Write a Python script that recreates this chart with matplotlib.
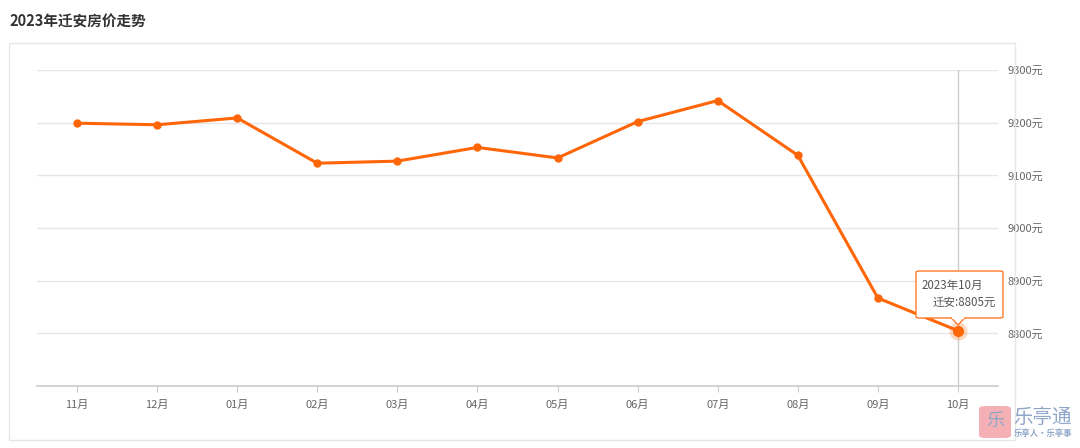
import matplotlib
matplotlib.use("Agg")
import matplotlib.pyplot as plt
from matplotlib.patches import Rectangle, FancyBboxPatch, Polygon

plt.rcParams['font.family'] = ['Noto Sans CJK SC', 'DejaVu Sans']

title = "2023年迁安房价走势"
months = ["11月", "12月", "01月", "02月", "03月", "04月", "05月", "06月", "07月", "08月", "09月", "10月"]
prices = [9199, 9196, 9209, 9123, 9127, 9153, 9133, 9202, 9242, 9138, 8867, 8805]
y_ticks = [8800, 8900, 9000, 9100, 9200, 9300]
y_min, y_max = 8700, 9300
tooltip_title = "2023年10月"
tooltip_series = "迁安"
city_unit = "元"

W, H = 1080, 448
fig = plt.figure(figsize=(W / 100, H / 100), dpi=100)
fig.patch.set_facecolor("white")

# panel border
fig.patches.append(Rectangle((9 / W, 1 - 440 / H), (1015 - 9) / W, (440 - 43) / H,
                             transform=fig.transFigure, fill=False,
                             edgecolor="#e6e6e6", linewidth=1.0))
fig.text(9 / W, 1 - 22 / H, title, fontsize=10.5, fontweight="bold", color="#333333",
         ha="left", va="center")

ax = fig.add_axes([37 / W, 1 - 386 / H, (998 - 37) / W, (386 - 70) / H])
x = list(range(len(months)))
ax.set_xlim(-0.5, len(months) - 0.5)
ax.set_ylim(y_min, y_max)

for t in y_ticks:
    ax.axhline(t, color="#e6e6e6", linewidth=1.0, zorder=0)

for s in ["top", "left", "right"]:
    ax.spines[s].set_visible(False)
ax.spines["bottom"].set_color("#cccccc")
ax.spines["bottom"].set_linewidth(1.2)

ax.yaxis.tick_right()
ax.set_yticks(y_ticks)
ax.set_yticklabels([f"{t}{city_unit}" for t in y_ticks], fontsize=8, color="#666666")
ax.tick_params(axis="y", length=0, pad=7)
ax.set_xticks(x)
ax.set_xticklabels(months, fontsize=8, color="#666666")
ax.tick_params(axis="x", length=4, color="#cccccc", pad=6)

# crosshair
ax.axvline(x[-1], color="#cccccc", linewidth=1.0, zorder=1)

ax.plot(x, prices, color="#ff6608", linewidth=2.2, marker="o", markersize=5,
        zorder=3, solid_joinstyle="round")
# highlighted last point
ax.plot(x[-1], prices[-1], marker="o", markersize=13, color="#ff6608", alpha=0.25,
        markeredgewidth=0, zorder=4)
ax.plot(x[-1], prices[-1], marker="o", markersize=8, color="#ff6608", zorder=5,
        markeredgewidth=0)

# tooltip (figure coordinates in pixels)
def fx(px):
    return px / W

def fy(py):
    return 1 - py / H

bx0, bx1, by0, by1 = 916, 1003, 271, 318
box = FancyBboxPatch((fx(bx0), fy(by1)), fx(bx1) - fx(bx0), fy(by0) - fy(by1),
                     boxstyle="round,pad=0,rounding_size=0.003",
                     transform=fig.transFigure, facecolor="white",
                     edgecolor="#ff7a26", linewidth=1.0, zorder=10)
fig.patches.append(box)
tri = Polygon([(fx(951), fy(by1 - 0.5)), (fx(958), fy(by1 + 7)), (fx(965), fy(by1 - 0.5))],
              closed=False, transform=fig.transFigure, facecolor="white",
              edgecolor="#ff7a26", linewidth=1.0, zorder=11)
fig.patches.append(tri)
fig.patches.append(Rectangle((fx(952), fy(by1 + 0.6)), fx(964) - fx(952), 1.6 / H,
                             transform=fig.transFigure, facecolor="white",
                             edgecolor="none", zorder=12))
fig.text(fx(922), fy(285), tooltip_title, fontsize=8.3, color="#555555",
         ha="left", va="center", zorder=13)
fig.text(fx(996), fy(302), f"{tooltip_series}:{prices[-1]}{city_unit}", fontsize=8.3,
         color="#555555", ha="right", va="center", zorder=13)

# watermark
fig.patches.append(FancyBboxPatch((fx(979), fy(438)), fx(1011) - fx(979), fy(406) - fy(438),
                                  boxstyle="round,pad=0,rounding_size=0.006",
                                  transform=fig.transFigure, facecolor="#f4a3a8",
                                  edgecolor="none", alpha=0.85, zorder=20))
fig.text(fx(995), fy(421), "乐", fontsize=13, color="#8fa6c9", ha="center", va="center",
         zorder=21)
fig.text(fx(1043), fy(417), "乐亭通", fontsize=14, color="#8fa6c9", ha="center",
         va="center", zorder=21)
fig.text(fx(1043), fy(433), "乐亭人·乐亭事", fontsize=6, color="#8fa6c9", ha="center",
         va="center", fontweight="bold", zorder=21)

fig.savefig("out.png", dpi=100, facecolor="white")
